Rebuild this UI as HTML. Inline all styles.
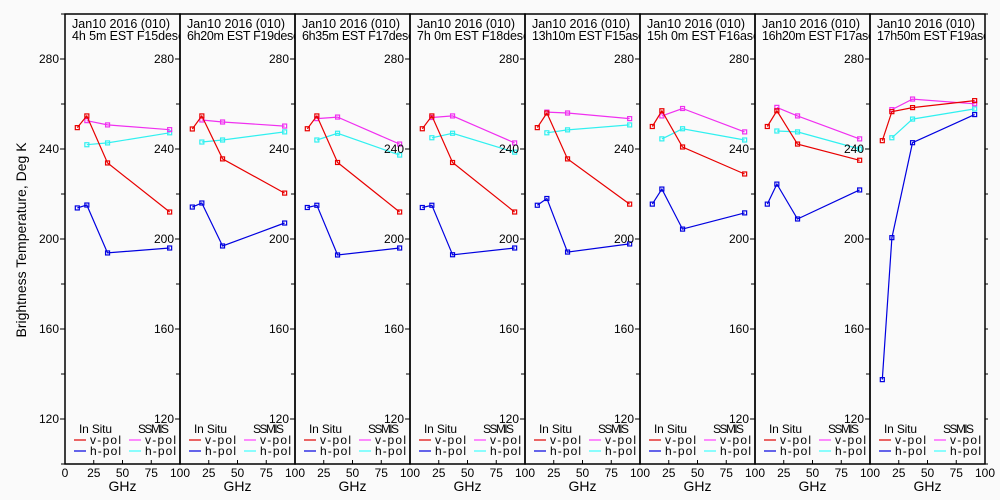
<!DOCTYPE html>
<html><head><meta charset="utf-8"><style>
html,body{margin:0;padding:0;background:#fafafa;}
svg{display:block;font-family:"Liberation Sans",sans-serif;}
</style></head><body>
<svg id="chart" width="1000" height="500" viewBox="0 0 1000 500">
<rect width="1000" height="500" fill="#fafafa"/>
<text x="26" y="240" font-size="14" text-anchor="middle" transform="rotate(-90 26 240)">Brightness Temperature, Deg K</text>
</svg>
<script>
const freqs = [10.7, 19, 37, 91];
const freqsSsmis = [19, 37, 91];
const titles2 = ["4h 5m EST F15desc","6h20m EST F19desc","6h35m EST F17desc","7h 0m EST F18desc","13h10m EST F15asc","15h 0m EST F16asc","16h20m EST F17asc","17h50m EST F19asc"];
const insituV = [[249.5,254.7,233.8,212],[248.9,254.7,235.6,220.4],[249,254.7,234,212],[249,254.7,234,212],[249.5,256,235.6,215.5],[250,257,240.9,228.9],[250,257,242.2,235],[243.7,256.6,258.4,261.5]];
const insituH = [[213.8,215.1,193.8,196],[214.2,216,196.9,207.1],[214,215,192.9,196],[214,215,193,196],[215,218,194.2,197.8],[215.5,222.2,204.4,211.6],[215.5,224.4,208.9,221.8],[137.5,200.6,242.8,255.3]];
const ssmisV = [[252.6,250.7,248.6],[252.9,252,250.2],[253.5,254.2,242.2],[254,254.7,242.7],[256.4,256,253.5],[254.7,258,247.6],[258.5,254.7,244.5],[257.5,262.2,260.1]];
const ssmisH = [[241.9,242.7,247.2],[243.1,244,247.6],[244,247,237.3],[245,247,238.6],[247.2,248.5,250.7],[244.5,249,244],[248,247.6,240],[245,253.3,257.8]];
const yTicks = [120,160,200,240,280];
const xTicks = [0,25,50,75,100];

const svg = document.getElementById('chart');
const NS = 'http://www.w3.org/2000/svg';
const PW = 115, X0 = 65, TOP = 14, BOT = 464;
function yS(v){ return TOP + (300 - v) * (BOT - TOP) / 200; }
function xS(p, f){ return X0 + p*PW + f * PW / 100; }
function mk(tag, attrs, parent){ const e = document.createElementNS(NS, tag); for (const k in attrs) e.setAttribute(k, attrs[k]); (parent||svg).appendChild(e); return e; }

const defs = mk('defs', {});
for (let p = 0; p < 8; p++) {
  const cp = mk('clipPath', {id: 'clip'+p}, defs);
  mk('rect', {x: X0+p*PW, y: 0, width: PW, height: 500}, cp);
}

function series(p, xs, vals, color, name, g) {
  const pts = xs.map((f,i) => xS(p,f).toFixed(1)+','+yS(vals[i]).toFixed(1)).join(' ');
  const pl = mk('polyline', {points: pts, fill: 'none', stroke: color, 'stroke-width': 1.2}, g);
  
  
  xs.forEach((f,i) => {
    const r = mk('rect', {x: xS(p,f)-2, y: yS(vals[i])-2, width: 4, height: 4, fill: 'none', stroke: color, 'stroke-width': 1.2}, g);
    
    
  });
}

for (let p = 0; p < 8; p++) {
  const g = mk('g', {});
  
  
  const L = X0 + p*PW, R = L + PW;
  mk('rect', {x: L, y: TOP, width: PW, height: BOT-TOP, fill: 'none', stroke: '#000', 'stroke-width': 1.5}, g);
  for (let v = 100; v <= 300; v += 20) {
    const y = yS(v);
    const len = (v % 40 === 0) ? 5 : 4;
    mk('line', {x1: L-len, y1: y, x2: L, y2: y, stroke: '#000'}, g);
    if (p === 7) mk('line', {x1: R, y1: y, x2: R+3, y2: y, stroke: '#000'}, g);
  }
  yTicks.forEach(v => {
    const t = mk('text', {x: L-6, y: yS(v)+4, 'font-size': 12, 'text-anchor': 'end'}, g);
    t.textContent = v;
    
    
  });
  xTicks.forEach(f => {
    const x = xS(p, f);
    mk('line', {x1: x, y1: BOT, x2: x, y2: BOT-4, stroke: '#000'}, g);
    if (f === 0 && p > 0) return;
    const t = mk('text', {x: x, y: BOT+13, 'font-size': 12, 'text-anchor': 'middle'}, g);
    t.textContent = f;
    
    
  });
  const xl = mk('text', {x: L+PW/2, y: 491, 'font-size': 14, 'text-anchor': 'middle'}, g);
  xl.textContent = 'GHz';
  
  
  const tg = mk('g', {'clip-path': 'url(#clip'+p+')'}, g);
  const t1 = mk('text', {x: L+7, y: 28, 'font-size': 12.5, textLength: 98, lengthAdjust: 'spacing'}, tg);
  t1.textContent = 'Jan10 2016 (010)';
  
  
  const t2 = mk('text', {x: L+7, y: 40, 'font-size': 12.5, textLength: titles2[p].length * 6.6, lengthAdjust: 'spacing'}, tg);
  t2.textContent = titles2[p];
  
  
  const lg = mk('g', {}, g);
  
  
  const a = mk('text', {x: L+14, y: 433, 'font-size': 12, textLength: 33, lengthAdjust: 'spacing'}, lg); a.textContent = 'In Situ';
  const b = mk('text', {x: L+73, y: 433, 'font-size': 12, textLength: 31, lengthAdjust: 'spacing'}, lg); b.textContent = 'SSMIS';
  [['#e00000',L+9,'v-pol',444],['#0000e0',L+9,'h-pol',455],['#ff40ff',L+64,'v-pol',444],['#40ffff',L+64,'h-pol',455]].forEach(e => {
    mk('line', {x1: e[1], y1: e[3]-4, x2: e[1]+12, y2: e[3]-4, stroke: e[0], 'stroke-width': 1.2}, lg);
    const t = mk('text', {x: e[1]+16, y: e[3], 'font-size': 12, textLength: 31, lengthAdjust: 'spacing'}, lg);
    t.textContent = e[2];
    
    
  });
  series(p, freqsSsmis, ssmisH[p], '#30f0f0', 'ssmis-h-pol', g);
  series(p, freqsSsmis, ssmisV[p], '#f030f0', 'ssmis-v-pol', g);
  series(p, freqs, insituV[p], '#e80000', 'insitu-v-pol', g);
  series(p, freqs, insituH[p], '#0000e0', 'insitu-h-pol', g);
}
</script>
</body></html>
